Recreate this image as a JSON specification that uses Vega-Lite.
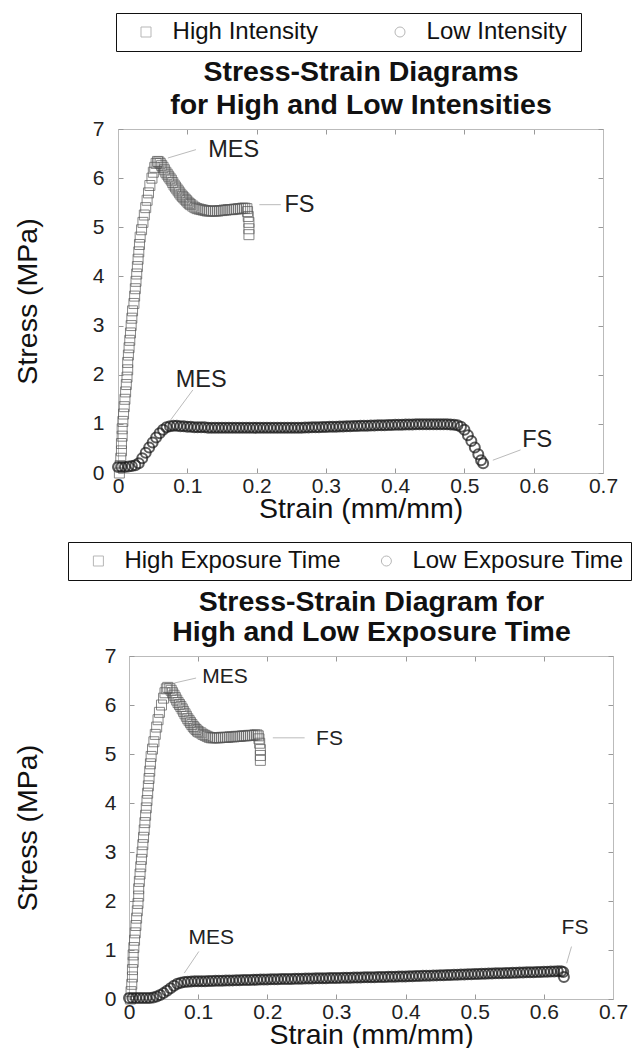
{
  "$schema": "https://vega.github.io/schema/vega-lite/v6.json",
  "padding": {"left": 12, "top": 12, "right": 0, "bottom": 0},
  "spacing": 18,
  "config": {
    "font": "Liberation Sans",
    "view": {"stroke": "#bbb"},
    "axis": {"grid": false, "domainColor": "#bbb", "tickColor": "#999", "labelColor": "#222", "titleColor": "#111"}
  },
  "datasets": {
    "hi1": [
      {"x":0.002,"y":0},{"x":0.003,"y":0.15},{"x":0.004,"y":0.3},{"x":0.005,"y":0.45},{"x":0.005,"y":0.6},{"x":0.006,"y":0.75},{"x":0.006,"y":0.9},{"x":0.007,"y":1.05},{"x":0.008,"y":1.2},{"x":0.009,"y":1.35},{"x":0.01,"y":1.5},{"x":0.011,"y":1.65},{"x":0.012,"y":1.8},{"x":0.013,"y":1.95},{"x":0.014,"y":2.1},{"x":0.014,"y":2.25},{"x":0.015,"y":2.4},{"x":0.016,"y":2.55},{"x":0.017,"y":2.7},{"x":0.018,"y":2.85},{"x":0.019,"y":3.0},{"x":0.02,"y":3.15},{"x":0.021,"y":3.3},{"x":0.023,"y":3.45},{"x":0.024,"y":3.6},{"x":0.025,"y":3.75},{"x":0.026,"y":3.9},{"x":0.027,"y":4.05},{"x":0.028,"y":4.2},{"x":0.029,"y":4.35},{"x":0.03,"y":4.5},{"x":0.031,"y":4.65},{"x":0.032,"y":4.8},{"x":0.034,"y":4.95},{"x":0.036,"y":5.1},{"x":0.038,"y":5.25},{"x":0.04,"y":5.4},{"x":0.042,"y":5.55},{"x":0.044,"y":5.7},{"x":0.046,"y":5.85},{"x":0.049,"y":6.0},{"x":0.051,"y":6.12},{"x":0.053,"y":6.22},{"x":0.055,"y":6.3},{"x":0.057,"y":6.34},
      {"x":0.059,"y":6.33},{"x":0.061,"y":6.3},{"x":0.063,"y":6.26},{"x":0.065,"y":6.22},{"x":0.067,"y":6.17},{"x":0.069,"y":6.12},{"x":0.071,"y":6.08},{"x":0.073,"y":6.04},{"x":0.075,"y":6.0},{"x":0.077,"y":5.96},{"x":0.079,"y":5.91},{"x":0.081,"y":5.86},{"x":0.083,"y":5.82},{"x":0.085,"y":5.78},{"x":0.087,"y":5.74},{"x":0.089,"y":5.7},{"x":0.091,"y":5.66},{"x":0.093,"y":5.63},{"x":0.095,"y":5.6},{"x":0.097,"y":5.57},{"x":0.099,"y":5.54},{"x":0.101,"y":5.51},{"x":0.103,"y":5.48},{"x":0.105,"y":5.46},{"x":0.108,"y":5.43},{"x":0.111,"y":5.4},{"x":0.114,"y":5.38},{"x":0.117,"y":5.37},{"x":0.12,"y":5.36},{"x":0.123,"y":5.35},{"x":0.126,"y":5.34},{"x":0.129,"y":5.33},{"x":0.132,"y":5.33},{"x":0.135,"y":5.33},{"x":0.138,"y":5.33},{"x":0.141,"y":5.33},{"x":0.144,"y":5.33},{"x":0.147,"y":5.34},{"x":0.15,"y":5.34},{"x":0.153,"y":5.35},{"x":0.156,"y":5.35},{"x":0.159,"y":5.36},{"x":0.162,"y":5.36},{"x":0.165,"y":5.36},{"x":0.168,"y":5.37},{"x":0.171,"y":5.37},{"x":0.174,"y":5.38},{"x":0.177,"y":5.38},{"x":0.18,"y":5.39},{"x":0.183,"y":5.39},{"x":0.186,"y":5.38},{"x":0.187,"y":5.32},{"x":0.188,"y":5.22},{"x":0.189,"y":5.1},{"x":0.189,"y":4.97},{"x":0.189,"y":4.85}
    ],
    "lo1": [
      {"x":0,"y":0.12},{"x":0.005,"y":0.12},{"x":0.01,"y":0.12},{"x":0.015,"y":0.13},{"x":0.02,"y":0.14},{"x":0.025,"y":0.16},{"x":0.03,"y":0.2},{"x":0.035,"y":0.3},{"x":0.04,"y":0.41},{"x":0.045,"y":0.52},{"x":0.05,"y":0.62},{"x":0.055,"y":0.72},{"x":0.06,"y":0.81},{"x":0.065,"y":0.88},{"x":0.07,"y":0.93},{"x":0.075,"y":0.95},{"x":0.08,"y":0.96},{"x":0.085,"y":0.96},{"x":0.09,"y":0.95},{"x":0.095,"y":0.95},{"x":0.1,"y":0.94},{"x":0.105,"y":0.94},{"x":0.11,"y":0.93},{"x":0.115,"y":0.93},{"x":0.12,"y":0.93},{"x":0.125,"y":0.93},{"x":0.13,"y":0.92},{"x":0.135,"y":0.92},{"x":0.14,"y":0.92},{"x":0.145,"y":0.92},{"x":0.15,"y":0.92},{"x":0.155,"y":0.92},{"x":0.16,"y":0.92},{"x":0.165,"y":0.92},{"x":0.17,"y":0.92},{"x":0.175,"y":0.92},{"x":0.18,"y":0.92},{"x":0.185,"y":0.92},{"x":0.19,"y":0.92},{"x":0.195,"y":0.92},{"x":0.2,"y":0.92},{"x":0.205,"y":0.92},{"x":0.21,"y":0.92},{"x":0.215,"y":0.92},{"x":0.22,"y":0.92},{"x":0.225,"y":0.92},{"x":0.23,"y":0.92},{"x":0.235,"y":0.92},{"x":0.24,"y":0.92},{"x":0.245,"y":0.92},{"x":0.25,"y":0.92},{"x":0.255,"y":0.92},{"x":0.26,"y":0.92},{"x":0.265,"y":0.92},{"x":0.27,"y":0.925},{"x":0.275,"y":0.925},{"x":0.28,"y":0.93},{"x":0.285,"y":0.93},{"x":0.29,"y":0.93},{"x":0.295,"y":0.935},{"x":0.3,"y":0.935},{"x":0.305,"y":0.94},{"x":0.31,"y":0.94},{"x":0.315,"y":0.94},{"x":0.32,"y":0.945},{"x":0.325,"y":0.945},{"x":0.33,"y":0.95},{"x":0.335,"y":0.95},{"x":0.34,"y":0.955},{"x":0.345,"y":0.955},{"x":0.35,"y":0.96},{"x":0.355,"y":0.96},{"x":0.36,"y":0.96},{"x":0.365,"y":0.965},{"x":0.37,"y":0.965},{"x":0.375,"y":0.97},{"x":0.38,"y":0.97},{"x":0.385,"y":0.97},{"x":0.39,"y":0.975},{"x":0.395,"y":0.975},{"x":0.4,"y":0.98},{"x":0.405,"y":0.98},{"x":0.41,"y":0.98},{"x":0.415,"y":0.985},{"x":0.42,"y":0.985},{"x":0.425,"y":0.985},{"x":0.43,"y":0.99},{"x":0.435,"y":0.99},{"x":0.44,"y":0.99},{"x":0.445,"y":0.99},{"x":0.45,"y":0.99},{"x":0.455,"y":0.99},{"x":0.46,"y":0.99},{"x":0.465,"y":0.99},{"x":0.47,"y":0.99},{"x":0.475,"y":0.99},{"x":0.48,"y":0.985},{"x":0.485,"y":0.98},{"x":0.49,"y":0.97},{"x":0.495,"y":0.94},{"x":0.5,"y":0.88},{"x":0.505,"y":0.77},{"x":0.51,"y":0.65},{"x":0.515,"y":0.52},{"x":0.52,"y":0.38},{"x":0.524,"y":0.26},{"x":0.527,"y":0.2}
    ],
    "ann1": [
      {"x":0.167,"y":6.58,"t":"MES"},{"x":0.262,"y":5.46,"t":"FS"},{"x":0.12,"y":1.89,"t":"MES"},{"x":0.605,"y":0.67,"t":"FS"}
    ],
    "lead1": [
      {"x":0.072,"y":6.41,"x2":0.1125,"y2":6.58},{"x":0.204,"y":5.46,"x2":0.235,"y2":5.46},{"x":0.076,"y":1.08,"x2":0.108,"y2":1.69},{"x":0.541,"y":0.26,"x2":0.581,"y2":0.47}
    ],
    "hi2": [
      {"x":0.002,"y":0},{"x":0.003,"y":0.15},{"x":0.004,"y":0.3},{"x":0.005,"y":0.45},{"x":0.005,"y":0.6},{"x":0.006,"y":0.75},{"x":0.006,"y":0.9},{"x":0.007,"y":1.05},{"x":0.008,"y":1.2},{"x":0.009,"y":1.35},{"x":0.01,"y":1.5},{"x":0.011,"y":1.65},{"x":0.012,"y":1.8},{"x":0.013,"y":1.95},{"x":0.014,"y":2.1},{"x":0.014,"y":2.25},{"x":0.015,"y":2.4},{"x":0.016,"y":2.55},{"x":0.017,"y":2.7},{"x":0.018,"y":2.85},{"x":0.019,"y":3.0},{"x":0.02,"y":3.15},{"x":0.021,"y":3.3},{"x":0.022,"y":3.45},{"x":0.023,"y":3.6},{"x":0.024,"y":3.75},{"x":0.025,"y":3.9},{"x":0.026,"y":4.05},{"x":0.027,"y":4.2},{"x":0.028,"y":4.35},{"x":0.029,"y":4.5},{"x":0.03,"y":4.65},{"x":0.031,"y":4.8},{"x":0.032,"y":4.95},{"x":0.034,"y":5.1},{"x":0.036,"y":5.25},{"x":0.038,"y":5.4},{"x":0.04,"y":5.55},{"x":0.042,"y":5.7},{"x":0.044,"y":5.85},{"x":0.047,"y":6.0},{"x":0.05,"y":6.14},{"x":0.052,"y":6.25},{"x":0.054,"y":6.33},{"x":0.056,"y":6.36},
      {"x":0.059,"y":6.34},{"x":0.061,"y":6.3},{"x":0.063,"y":6.25},{"x":0.065,"y":6.2},{"x":0.067,"y":6.15},{"x":0.069,"y":6.1},{"x":0.071,"y":6.05},{"x":0.073,"y":6.01},{"x":0.075,"y":5.97},{"x":0.077,"y":5.92},{"x":0.079,"y":5.87},{"x":0.081,"y":5.82},{"x":0.083,"y":5.77},{"x":0.085,"y":5.72},{"x":0.087,"y":5.68},{"x":0.089,"y":5.64},{"x":0.091,"y":5.6},{"x":0.093,"y":5.56},{"x":0.095,"y":5.53},{"x":0.097,"y":5.5},{"x":0.099,"y":5.47},{"x":0.101,"y":5.45},{"x":0.104,"y":5.43},{"x":0.107,"y":5.4},{"x":0.11,"y":5.38},{"x":0.113,"y":5.36},{"x":0.116,"y":5.34},{"x":0.119,"y":5.33},{"x":0.122,"y":5.33},{"x":0.125,"y":5.33},{"x":0.128,"y":5.33},{"x":0.131,"y":5.33},{"x":0.134,"y":5.34},{"x":0.137,"y":5.34},{"x":0.14,"y":5.34},{"x":0.143,"y":5.34},{"x":0.146,"y":5.35},{"x":0.149,"y":5.35},{"x":0.152,"y":5.35},{"x":0.155,"y":5.36},{"x":0.158,"y":5.36},{"x":0.161,"y":5.36},{"x":0.164,"y":5.37},{"x":0.167,"y":5.37},{"x":0.17,"y":5.37},{"x":0.173,"y":5.38},{"x":0.176,"y":5.38},{"x":0.179,"y":5.38},{"x":0.182,"y":5.39},{"x":0.185,"y":5.39},{"x":0.187,"y":5.37},{"x":0.188,"y":5.31},{"x":0.189,"y":5.22},{"x":0.19,"y":5.09},{"x":0.19,"y":4.97},{"x":0.19,"y":4.87}
    ],
    "lo2": [
      {"x":0,"y":0.02},{"x":0.005,"y":0.02},{"x":0.01,"y":0.02},{"x":0.015,"y":0.02},{"x":0.02,"y":0.02},{"x":0.025,"y":0.02},{"x":0.03,"y":0.02},{"x":0.035,"y":0.03},{"x":0.04,"y":0.05},{"x":0.045,"y":0.08},{"x":0.05,"y":0.12},{"x":0.055,"y":0.17},{"x":0.06,"y":0.22},{"x":0.065,"y":0.27},{"x":0.07,"y":0.31},{"x":0.075,"y":0.33},{"x":0.08,"y":0.345},{"x":0.085,"y":0.35},{"x":0.09,"y":0.355},{"x":0.095,"y":0.36},{"x":0.1,"y":0.36},
      {"x":0.105,"y":0.362},{"x":0.11,"y":0.364},{"x":0.115,"y":0.366},{"x":0.12,"y":0.368},{"x":0.125,"y":0.37},{"x":0.13,"y":0.372},{"x":0.135,"y":0.374},{"x":0.14,"y":0.376},{"x":0.145,"y":0.378},{"x":0.15,"y":0.38},{"x":0.155,"y":0.382},{"x":0.16,"y":0.384},{"x":0.165,"y":0.386},{"x":0.17,"y":0.388},{"x":0.175,"y":0.39},{"x":0.18,"y":0.392},{"x":0.185,"y":0.394},{"x":0.19,"y":0.396},{"x":0.195,"y":0.398},{"x":0.2,"y":0.4},
      {"x":0.205,"y":0.401},{"x":0.21,"y":0.403},{"x":0.215,"y":0.404},{"x":0.22,"y":0.406},{"x":0.225,"y":0.407},{"x":0.23,"y":0.409},{"x":0.235,"y":0.41},{"x":0.24,"y":0.412},{"x":0.245,"y":0.413},{"x":0.25,"y":0.415},{"x":0.255,"y":0.416},{"x":0.26,"y":0.418},{"x":0.265,"y":0.419},{"x":0.27,"y":0.421},{"x":0.275,"y":0.422},{"x":0.28,"y":0.424},{"x":0.285,"y":0.425},{"x":0.29,"y":0.427},{"x":0.295,"y":0.428},{"x":0.3,"y":0.43},
      {"x":0.305,"y":0.431},{"x":0.31,"y":0.433},{"x":0.315,"y":0.434},{"x":0.32,"y":0.436},{"x":0.325,"y":0.437},{"x":0.33,"y":0.439},{"x":0.335,"y":0.44},{"x":0.34,"y":0.442},{"x":0.345,"y":0.443},{"x":0.35,"y":0.445},{"x":0.355,"y":0.446},{"x":0.36,"y":0.448},{"x":0.365,"y":0.449},{"x":0.37,"y":0.451},{"x":0.375,"y":0.452},{"x":0.38,"y":0.454},{"x":0.385,"y":0.455},{"x":0.39,"y":0.457},{"x":0.395,"y":0.458},{"x":0.4,"y":0.46},
      {"x":0.405,"y":0.462},{"x":0.41,"y":0.465},{"x":0.415,"y":0.467},{"x":0.42,"y":0.47},{"x":0.425,"y":0.472},{"x":0.43,"y":0.475},{"x":0.435,"y":0.477},{"x":0.44,"y":0.48},{"x":0.445,"y":0.482},{"x":0.45,"y":0.485},{"x":0.455,"y":0.487},{"x":0.46,"y":0.49},{"x":0.465,"y":0.492},{"x":0.47,"y":0.495},{"x":0.475,"y":0.497},{"x":0.48,"y":0.5},{"x":0.485,"y":0.502},{"x":0.49,"y":0.505},{"x":0.495,"y":0.507},{"x":0.5,"y":0.51},
      {"x":0.505,"y":0.512},{"x":0.51,"y":0.515},{"x":0.515,"y":0.517},{"x":0.52,"y":0.519},{"x":0.525,"y":0.521},{"x":0.53,"y":0.524},{"x":0.535,"y":0.526},{"x":0.54,"y":0.528},{"x":0.545,"y":0.53},{"x":0.55,"y":0.533},{"x":0.555,"y":0.535},{"x":0.56,"y":0.537},{"x":0.565,"y":0.539},{"x":0.57,"y":0.542},{"x":0.575,"y":0.544},{"x":0.58,"y":0.546},{"x":0.585,"y":0.548},{"x":0.59,"y":0.551},{"x":0.595,"y":0.553},{"x":0.6,"y":0.555},{"x":0.605,"y":0.557},{"x":0.61,"y":0.56},{"x":0.615,"y":0.562},{"x":0.62,"y":0.564},{"x":0.625,"y":0.565},{"x":0.628,"y":0.55},{"x":0.629,"y":0.45}
    ],
    "ann2": [
      {"x":0.139,"y":6.58,"t":"MES"},{"x":0.29,"y":5.3,"t":"FS"},{"x":0.119,"y":1.24,"t":"MES"},{"x":0.645,"y":1.45,"t":"FS"}
    ],
    "lead2": [
      {"x":0.066,"y":6.45,"x2":0.097,"y2":6.55},{"x":0.208,"y":5.33,"x2":0.254,"y2":5.33},{"x":0.08,"y":0.53,"x2":0.101,"y2":0.97},{"x":0.633,"y":0.73,"x2":0.64,"y2":1.07}
    ]
  },
  "vconcat": [
    {
      "width": 485,
      "height": 344,
      "layer": [
        {
          "data": {"name": "lead1"},
          "mark": {"type": "rule", "color": "#bbb", "strokeWidth": 1},
          "encoding": {
            "x": {"field": "x", "type": "quantitative", "scale": {"domain": [0, 0.7], "nice": false}, "axis": null},
            "y": {"field": "y", "type": "quantitative", "scale": {"domain": [0, 7], "nice": false}, "axis": null},
            "x2": {"field": "x2"},
            "y2": {"field": "y2"}
          }
        },
        {
          "data": {"name": "hi1"},
          "mark": {"type": "point", "filled": false, "color": "#555", "strokeWidth": 1, "size": 100},
          "encoding": {
            "x": {"field": "x", "type": "quantitative",
              "axis": {"orient": "bottom", "values": [0, 0.1, 0.2, 0.3, 0.4, 0.5, 0.6, 0.7], "format": "~g", "labelFontSize": 21, "labelPadding": 7, "labelFlush": false, "labelOverlap": false, "tickSize": -5, "title": "Strain (mm/mm)", "titleFontSize": 28.5, "titleFontWeight": "normal", "titlePadding": -2}},
            "y": {"field": "y", "type": "quantitative",
              "axis": {"orient": "left", "values": [0, 1, 2, 3, 4, 5, 6, 7], "format": "d", "labelFontSize": 21, "labelPadding": 19, "labelFlush": false, "labelOverlap": false, "tickSize": -5, "title": "Stress (MPa)", "titleFontSize": 28.5, "titleFontWeight": "normal", "titlePadding": 50}},
            "shape": {"datum": "High Intensity", "type": "nominal",
              "scale": {"domain": ["High Intensity", "Low  Intensity"], "range": ["square", "circle"]},
              "legend": {"orient": "none", "legendX": -2, "legendY": -116, "direction": "horizontal", "title": null, "strokeColor": "#111", "fillColor": "#fff", "padding": 7, "labelFontSize": 24, "labelColor": "#111", "labelLimit": 400, "symbolSize": 100, "symbolStrokeWidth": 1, "symbolStrokeColor": "#999", "symbolFillColor": "#fff", "symbolOffset": 11, "labelOffset": 14.6, "columnPadding": 58}}
          }
        },
        {
          "data": {"name": "lo1"},
          "mark": {"type": "point", "filled": false, "color": "#1a1a1a", "strokeWidth": 2, "size": 100},
          "encoding": {
            "x": {"field": "x", "type": "quantitative", "axis": null},
            "y": {"field": "y", "type": "quantitative", "axis": null},
            "shape": {"datum": "Low  Intensity", "type": "nominal"}
          }
        },
        {
          "data": {"name": "ann1"},
          "mark": {"type": "text", "fontSize": 23.5, "color": "#222", "align": "center", "baseline": "middle"},
          "encoding": {
            "x": {"field": "x", "type": "quantitative",
              "axis": {"orient": "top", "values": [0, 0.1, 0.2, 0.3, 0.4, 0.5, 0.6, 0.7], "labels": false, "tickSize": -5, "minExtent": 0, "title": ["Stress-Strain Diagrams", "for High and Low Intensities"], "titleFontSize": 28.5, "titleFontWeight": "bold", "titleLineHeight": 33, "titlePadding": 9}},
            "y": {"field": "y", "type": "quantitative",
              "axis": {"orient": "right", "values": [0, 1, 2, 3, 4, 5, 6, 7], "labels": false, "tickSize": -5, "minExtent": 0, "title": null}},
            "text": {"field": "t"}
          }
        }
      ],
      "resolve": {"axis": {"x": "independent", "y": "independent"}}
    },
    {
      "hconcat": [
        {
          "width": 11,
          "height": 343,
          "data": {"values": []},
          "mark": "point",
          "view": {"stroke": null}
        },
        {
          "width": 484,
          "height": 343,
          "layer": [
            {
              "data": {"name": "lead2"},
              "mark": {"type": "rule", "color": "#bbb", "strokeWidth": 1},
              "encoding": {
                "x": {"field": "x", "type": "quantitative", "scale": {"domain": [0, 0.7], "nice": false}, "axis": null},
                "y": {"field": "y", "type": "quantitative", "scale": {"domain": [0, 7], "nice": false}, "axis": null},
                "x2": {"field": "x2"},
                "y2": {"field": "y2"}
              }
            },
            {
              "data": {"name": "hi2"},
              "mark": {"type": "point", "filled": false, "color": "#555", "strokeWidth": 1, "size": 100},
              "encoding": {
                "x": {"field": "x", "type": "quantitative",
                  "axis": {"orient": "bottom", "values": [0, 0.1, 0.2, 0.3, 0.4, 0.5, 0.6, 0.7], "format": "~g", "labelFontSize": 21, "labelPadding": 7, "labelFlush": false, "labelOverlap": false, "tickSize": -5, "title": "Strain (mm/mm)", "titleFontSize": 28.5, "titleFontWeight": "normal", "titlePadding": -2}},
                "y": {"field": "y", "type": "quantitative",
                  "axis": {"orient": "left", "values": [0, 1, 2, 3, 4, 5, 6, 7], "format": "d", "labelFontSize": 21, "labelPadding": 18, "labelFlush": false, "labelOverlap": false, "tickSize": -5, "title": "Stress (MPa)", "titleFontSize": 28.5, "titleFontWeight": "normal", "titlePadding": 62}},
                "shape": {"datum": "High Exposure Time", "type": "nominal",
                  "scale": {"domain": ["High Exposure Time", "Low Exposure Time"], "range": ["square", "circle"]},
                  "legend": {"orient": "none", "legendX": -50, "legendY": -114, "direction": "horizontal", "title": null, "strokeColor": "#111", "fillColor": "#fff", "padding": 7, "labelFontSize": 24, "labelColor": "#111", "labelLimit": 400, "symbolSize": 100, "symbolStrokeWidth": 1, "symbolStrokeColor": "#999", "symbolFillColor": "#fff", "symbolOffset": 11.4, "labelOffset": 14, "columnPadding": 22}}
              }
            },
            {
              "data": {"name": "lo2"},
              "mark": {"type": "point", "filled": false, "color": "#1a1a1a", "strokeWidth": 2, "size": 100},
              "encoding": {
                "x": {"field": "x", "type": "quantitative", "axis": null},
                "y": {"field": "y", "type": "quantitative", "axis": null},
                "shape": {"datum": "Low Exposure Time", "type": "nominal"}
              }
            },
            {
              "data": {"name": "ann2"},
              "mark": {"type": "text", "fontSize": 21, "color": "#222", "align": "center", "baseline": "middle"},
              "encoding": {
                "x": {"field": "x", "type": "quantitative",
                  "axis": {"orient": "top", "values": [0, 0.1, 0.2, 0.3, 0.4, 0.5, 0.6, 0.7], "labels": false, "tickSize": -5, "minExtent": 0, "title": ["Stress-Strain Diagram for", "High and Low Exposure Time"], "titleFontSize": 28.5, "titleFontWeight": "bold", "titleLineHeight": 30, "titlePadding": 9}},
                "y": {"field": "y", "type": "quantitative",
                  "axis": {"orient": "right", "values": [0, 1, 2, 3, 4, 5, 6, 7], "labels": false, "tickSize": -5, "minExtent": 0, "title": null}},
                "text": {"field": "t"}
              }
            }
          ],
          "resolve": {"axis": {"x": "independent", "y": "independent"}}
        }
      ],
      "spacing": 0,
      "bounds": "flush"
    }
  ],
  "resolve": {"scale": {"x": "independent", "y": "independent", "shape": "independent"}, "legend": {"shape": "independent"}}
}
